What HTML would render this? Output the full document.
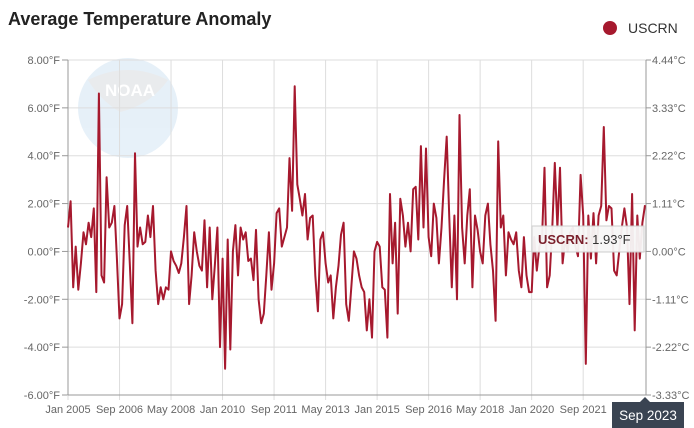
<!DOCTYPE html>
<html><head><meta charset="utf-8"><style>
body{margin:0;background:#fff;font-family:"Liberation Sans",sans-serif;}
svg{display:block}
</style></head><body>
<svg id="c" width="694" height="428" xmlns="http://www.w3.org/2000/svg" font-family="Liberation Sans, sans-serif">
<text x="8" y="25" font-size="18" font-weight="bold" fill="#222">Average Temperature Anomaly</text>
<circle cx="610" cy="28" r="7" fill="#a6192e"/>
<text x="628" y="33" font-size="14" fill="#333">USCRN</text>
<g opacity="0.5">
<circle cx="128" cy="108" r="50" fill="#cfe3f3"/>
<path d="M88,80 Q128,60 168,80 Q150,105 120,112 Q100,100 88,80Z" fill="#d5d8dc"/>
<text x="105" y="96" font-size="17" font-weight="bold" fill="#fff">NOAA</text>
</g>
<g id="grid" stroke="#ddd" stroke-width="1"></g>
<g id="lab" font-size="11" fill="#666"></g>
<line x1="68" y1="60" x2="68" y2="395" stroke="#999"/>
<line x1="646" y1="60" x2="646" y2="395" stroke="#999"/>
<line x1="68" y1="395" x2="646" y2="395" stroke="#999"/>
<path id="ln" fill="none" stroke="#a6192e" stroke-width="2" stroke-linejoin="round"/>
<rect x="532" y="226" width="112" height="26" fill="#f7f7f7" stroke="#ccc" opacity="0.95"/>
<text x="538" y="244" font-size="13"><tspan font-weight="bold" fill="#7a1f2b">USCRN:</tspan><tspan fill="#333"> 1.93°F</tspan></text>
<polygon points="645,397 640,402 650,402" fill="#3a4452"/>
<rect x="612" y="402" width="72" height="26" fill="#3a4452"/>
<text x="648" y="420" font-size="13.5" fill="#fff" text-anchor="middle">Sep 2023</text>
</svg>
<script>
var d=[1.0,2.1,-1.5,0.2,-1.6,-0.5,0.8,0.3,1.2,0.6,1.8,-1.7,
6.6,-1.0,-1.3,3.1,1.0,1.2,1.9,-0.3,-2.8,-2.2,1.1,1.9,
-0.5,-3.0,4.1,0.2,1.0,0.3,0.4,1.5,0.6,1.9,-0.8,-2.2,
-1.5,-2.0,-1.5,-1.6,0.0,-0.4,-0.6,-0.9,-0.5,0.6,1.9,-2.2,
-1.0,0.8,0.0,-0.6,-0.8,1.3,-1.5,1.0,-2.0,-0.6,1.0,-4.0,
-0.3,-4.9,0.5,-4.1,0.0,1.1,-1.0,1.0,0.5,0.8,-0.4,-0.3,
-1.2,0.9,-2.0,-3.0,-2.6,-1.0,0.8,-1.6,-0.5,1.6,1.8,0.2,
0.6,1.0,3.9,1.7,6.9,2.8,2.2,1.5,2.4,0.5,1.4,1.5,
-1.0,-2.5,0.5,0.8,-0.5,-1.3,-1.0,-2.8,-1.5,-0.6,0.7,1.2,
-2.2,-2.9,-1.5,0.0,-0.3,-1.0,-1.5,-1.7,-3.3,-2.0,-3.6,0.0,
0.4,0.2,-1.5,-1.6,-3.6,2.4,-0.5,1.2,-2.6,2.2,1.5,0.2,
1.2,0.0,2.6,2.7,0.5,4.4,1.0,4.3,0.6,-0.2,2.0,1.4,
-0.5,1.0,3.0,4.8,1.5,-1.5,1.5,-2.0,5.7,1.0,-0.5,1.5,
2.6,-1.5,1.5,0.9,0.0,-0.5,1.5,2.0,0.3,-0.8,-2.9,4.6,
1.0,1.5,-1.0,0.8,0.5,0.3,0.8,-0.8,-1.5,0.6,-1.0,-1.7,
-1.7,0.6,-0.8,0.2,0.5,3.5,-1.5,-1.0,1.0,3.7,1.0,3.5,
-0.5,0.5,0.0,0.8,1.0,0.2,-0.2,3.2,1.5,-4.7,1.5,-0.3,
1.6,-0.5,1.5,1.9,5.2,1.3,1.9,1.8,-0.8,-1.0,0.0,1.0,
1.8,1.0,-2.2,2.4,-3.3,1.5,-0.3,1.2,1.93];
var X0=68,X1=645,Y0=60,Y1=395,ppf=(Y1-Y0)/14;
function y(v){return Y0+(8-v)*ppf}
function x(i){return X0+i*(X1-X0)/(d.length-1)}
var p="";d.forEach(function(v,i){p+=(i?"L":"M")+x(i).toFixed(1)+","+y(v).toFixed(1)});
document.getElementById("ln").setAttribute("d",p);
var ns="http://www.w3.org/2000/svg",g=document.getElementById("grid"),L=document.getElementById("lab");
function el(par,t,a,txt){var e=document.createElementNS(ns,t);for(var k in a)e.setAttribute(k,a[k]);if(txt)e.textContent=txt;par.appendChild(e);}
for(var v=-6;v<=8;v+=2){var yy=y(v);el(g,"line",{x1:68,x2:646,y1:yy,y2:yy});el(L,"text",{x:60,y:yy+4,"text-anchor":"end"},v.toFixed(2)+"°F");el(g,"line",{x1:62,x2:68,y1:yy,y2:yy,stroke:"#999"});}
var cs=["4.44","3.33","2.22","1.11","0.00","-1.11","-2.22","-3.33"];
cs.forEach(function(c,i){var yy=Y0+i*(Y1-Y0)/7;el(L,"text",{x:652,y:yy+4},c+"°C");el(g,"line",{x1:646,x2:651,y1:yy,y2:yy,stroke:"#999"});});
var xl=["Jan 2005","Sep 2006","May 2008","Jan 2010","Sep 2011","May 2013","Jan 2015","Sep 2016","May 2018","Jan 2020","Sep 2021"];
xl.forEach(function(t,i){var xx=x(i*20);el(g,"line",{x1:xx,x2:xx,y1:60,y2:400});el(L,"text",{x:xx,y:413,"text-anchor":"middle"},t);});
</script>
</body></html>
